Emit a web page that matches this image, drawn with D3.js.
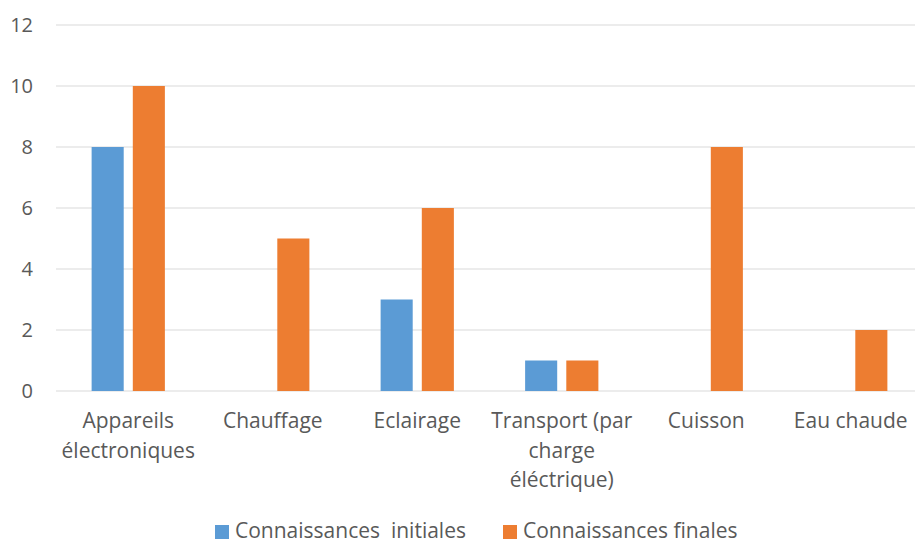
<!DOCTYPE html>
<html><head><meta charset="utf-8">
<script src="https://cdn.jsdelivr.net/npm/d3@7"></script>
<style>
html,body{margin:0;padding:0;background:#fff;overflow:hidden}
text{font-family:"Open Sans","Noto Sans",sans-serif;fill:#595959}
</style></head>
<body><svg id="c" width="915" height="543"></svg>
<script>
const categories = ["Appareils\nélectroniques","Chauffage","Eclairage","Transport (par\ncharge\néléctrique)","Cuisson","Eau chaude"];
const seriesNames = ["Connaissances  initiales","Connaissances finales"];
const initiales = [8,0,3,1,0,0];
const finales = [10,5,6,1,8,2];
const yTicks = [0,2,4,6,8,10,12];
const colors = ["#5B9BD5","#ED7D31"];

const svg = d3.select("#c");
const y = d3.scaleLinear().domain([0,12]).range([391,25]);
const x = d3.scaleBand().domain(categories).range([56,923]).padding(0);
const step = x.bandwidth();
const barW = step*0.222, gap = step*0.063;
const xs = d3.scaleOrdinal().domain(seriesNames).range([-gap/2-barW, gap/2]);

// gridlines
svg.append("g").selectAll("line").data(yTicks).join("line")
  .attr("x1",56).attr("x2",923).attr("y1",d=>y(d)).attr("y2",d=>y(d))
  .attr("stroke","#d9d9d9").attr("stroke-width",1);

// y labels
svg.append("g").selectAll("text").data(yTicks).join("text")
  .attr("x",33).attr("y",d=>y(d)).attr("dy","0.35em").attr("text-anchor","end")
  .attr("font-size",20).text(d=>d);

const series = [initiales, finales];
series.forEach((vals,si)=>{
  svg.append("g").selectAll("rect").data(vals.map((v,i)=>({c:categories[i],v})).filter(d=>d.v>0)).join("rect")
    .attr("x",d=>x(d.c)+step/2+xs(seriesNames[si]))
    .attr("width",barW)
    .attr("y",d=>y(d.v)).attr("height",d=>y(0)-y(d.v))
    .attr("fill",colors[si]);
});

// category labels (multi-line)
const lab = svg.append("g").selectAll("text").data(categories).join("text")
  .attr("x",d=>x(d)+step/2).attr("y",428).attr("text-anchor","middle").attr("font-size",21);
lab.each(function(d){
  const t = d3.select(this);
  d.split("\n").forEach((l,i)=>{
    t.append("tspan").attr("x",x(d)+step/2).attr("y",428+i*29.5).text(l);
  });
});

// legend
const legX = [215, 503];
const lg = svg.append("g").selectAll("g").data(seriesNames).join("g")
  .attr("transform",(d,i)=>`translate(${legX[i]},0)`);
lg.append("rect").attr("x",0).attr("y",525).attr("width",14).attr("height",14).attr("fill",(d,i)=>colors[i]);
lg.append("text").attr("x",20).attr("y",537.5).attr("font-size",21).text(d=>d).style("white-space","pre");
</script></body></html>
